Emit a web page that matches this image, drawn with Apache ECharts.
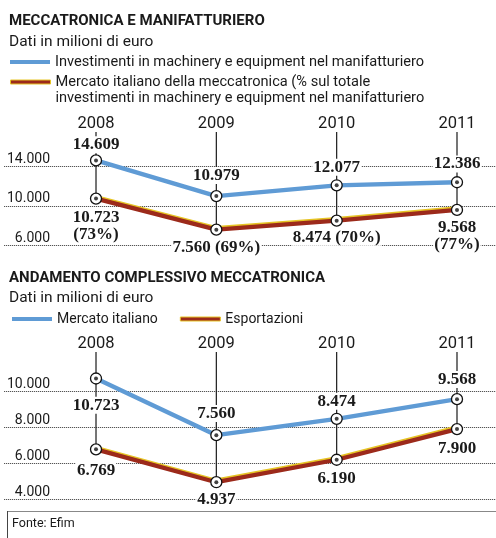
<!DOCTYPE html>
<html><head><meta charset="utf-8">
<script src="https://cdn.jsdelivr.net/npm/echarts@6/dist/echarts.min.js"></script>
<style>html,body{margin:0;padding:0;background:#fff}#c{width:496px;height:538px}</style>
</head><body><div id="c"></div>
<script>
// ---- data ----
const years = [2008, 2009, 2010, 2011];
// Top chart: Meccatronica e manifatturiero
const investimenti = [14609, 10979, 12077, 12386];
const mercatoTop = [10723, 7560, 8474, 9568];
const mercatoPct = [73, 69, 70, 77];
const topTicks = [6000, 10000, 14000];
// Bottom chart: Andamento complessivo meccatronica
const mercatoItaliano = [10723, 7560, 8474, 9568];
const esportazioni = [6769, 4937, 6190, 7900];
const bottomTicks = [4000, 6000, 8000, 10000];

const nameInv = 'Investimenti in machinery e equipment nel manifatturiero';
const nameMer = 'Mercato italiano della meccatronica (% sul totale\ninvestimenti in machinery e equipment nel manifatturiero';
const nameMI = 'Mercato italiano';
const nameEsp = 'Esportazioni';

// ---- style ----
const BLUE = '#5f9bd5', RED = '#9c2a1b', YELLOW = '#e6c425', INK = '#1a1a1a';
const SANS = 'Roboto', SERIF = 'Liberation Serif';
const XMIN = 2007.2354, XMAX = 2011.3241;
const twoLine = [true, false, false, true];

function fmt(v){ return String(v).replace(/\B(?=(\d{3})+(?!\d))/g, '.'); }
const pts = vals => years.map((y, i) => [y, vals[i]]);

function connector(ax, lows){
  return {type:'custom', xAxisIndex:ax, yAxisIndex:ax, z:1, silent:true, data: pts(lows), encode:{x:0, y:1},
    renderItem(params, api){
      const p = api.coord([api.value(0), api.value(1)]);
      const top = params.coordSys.y;
      return {type:'line', shape:{x1:p[0], y1:top, x2:p[0], y2:p[1]}, style:{stroke:INK, lineWidth:1.2}};
    }};
}
function line(ax, name, vals, color, extra){
  return {type:'line', name, xAxisIndex:ax, yAxisIndex:ax, z:2, silent:true,
    showSymbol:false, color, data: pts(vals),
    lineStyle: Object.assign({width:4.3, color, cap:'round', join:'round'}, extra||{})};
}
function markers(ax, vals, labelFn, pos, dist){
  return {type:'scatter', xAxisIndex:ax, yAxisIndex:ax, z:3, silent:true, symbol:'circle', symbolSize:11,
    itemStyle:{color:'#fff', borderColor:'#111', borderWidth:1.3, opacity:1},
    data: years.map((y, i) => ({value:[y, vals[i]], label:{position:pos[i], distance:dist[i]}})),
    label:{show:true, formatter: p => labelFn(p.dataIndex), fontFamily:SERIF, fontWeight:'bold',
      fontSize:17, lineHeight:17, color:INK, backgroundColor:'#fff', padding:[0,1], align:'center'}};
}
function dots(ax, vals){
  return {type:'scatter', xAxisIndex:ax, yAxisIndex:ax, z:4, silent:true, symbol:'circle', symbolSize:4,
    itemStyle:{color:'#111'}, data: pts(vals)};
}
function xAxis(g){
  return {type:'value', gridIndex:g, min:XMIN, max:XMAX, position:'top',
    axisLine:{show:false}, axisTick:{show:false}, splitLine:{show:false},
    axisLabel:{customValues: years, formatter: v => String(v), fontFamily:SANS, fontSize:16.5, color:INK, margin:0}};
}
function yAxis(g, min, max, ticks){
  return {type:'value', gridIndex:g, min, max,
    axisLine:{show:false}, axisTick:{show:false, customValues: ticks},
    splitLine:{show:false},
    axisLabel:{customValues: ticks, inside:true, margin:46, align:'right', verticalAlign:'bottom',
      formatter: v => fmt(v), fontFamily:SANS, fontSize:14, color:INK}};
}
const redShadow = {shadowColor: YELLOW, shadowOffsetY:-1.5, shadowOffsetX:-0.5, shadowBlur:0};

const footer = [
  {type:'line', shape:{x1:7, y1:511.5, x2:496, y2:511.5}, style:{stroke:'#888', lineWidth:1}},
  {type:'line', shape:{x1:7.5, y1:511, x2:7.5, y2:538}, style:{stroke:'#444', lineWidth:1}},
  {type:'text', left:12, top:517, style:{text:'Fonte: Efim', fontFamily:SANS, fontSize:12.5, fill:INK}}
];

const option = {
  backgroundColor:'#fff',
  animation:false,
  title:[
    {text:'MECCATRONICA E MANIFATTURIERO', subtext:'Dati in milioni di euro', left:9, top:12, padding:0, itemGap:3,
      textStyle:{fontFamily:SANS, fontWeight:'bold', fontSize:15, lineHeight:18, color:INK},
      subtextStyle:{fontFamily:SANS, fontSize:15.5, lineHeight:18, color:INK}},
    {text:'ANDAMENTO COMPLESSIVO MECCATRONICA', subtext:'Dati in milioni di euro', left:9, top:269, padding:0, itemGap:2,
      textStyle:{fontFamily:SANS, fontWeight:'bold', fontSize:15, lineHeight:18, color:INK},
      subtextStyle:{fontFamily:SANS, fontSize:15.5, lineHeight:18, color:INK}}
  ],
  legend:[
    {left:10, top:54, padding:0, selectedMode:false, icon:'rect', itemWidth:40, itemHeight:4,
      data:[{name:nameInv}], textStyle:{fontFamily:SANS, fontSize:14.6, lineHeight:16, color:INK}},
    {left:10, top:58, padding:0, selectedMode:false, icon:'rect', itemWidth:40, itemHeight:4,
      formatter: n => '\n' + n,
      data:[{name:nameMer, itemStyle:{color:RED, borderColor:YELLOW, borderWidth:1}}],
      textStyle:{fontFamily:SANS, fontSize:14.6, lineHeight:16, color:INK}},
    {left:12, top:311, padding:0, selectedMode:false, icon:'rect', itemWidth:40, itemHeight:4, itemGap:22,
      data:[{name:nameMI}, {name:nameEsp, itemStyle:{color:RED, borderColor:YELLOW, borderWidth:1}}],
      textStyle:{fontFamily:SANS, fontSize:14, lineHeight:16, color:INK}}
  ],
  grid:[
    {left:4, right:0, top:132, bottom:293},
    {left:4, right:0, top:352, bottom:39}
  ],
  xAxis:[xAxis(0), xAxis(1)],
  yAxis:[yAxis(0, 6000, 17500, topTicks), yAxis(1, 4000, 12200, bottomTicks)],
  series:[
    connector(0, mercatoTop),
    line(0, nameInv, investimenti, BLUE),
    line(0, nameMer, mercatoTop, RED, redShadow),
    markers(0, investimenti, i => fmt(investimenti[i]), ['top','top','top','top'], [1,6,3.5,3.5]),
    markers(0, mercatoTop, i => fmt(mercatoTop[i]) + (twoLine[i] ? '\n' : ' ') + '(' + mercatoPct[i] + '%)',
      ['bottom','bottom','bottom','bottom'], [4,3,2,3]),
    dots(0, investimenti), dots(0, mercatoTop),

    connector(1, esportazioni),
    line(1, nameMI, mercatoItaliano, BLUE),
    line(1, nameEsp, esportazioni, RED, redShadow),
    markers(1, mercatoItaliano, i => fmt(mercatoItaliano[i]), ['bottom','top','top','top'], [12,7,3,5]),
    markers(1, esportazioni, i => fmt(esportazioni[i]), ['bottom','bottom','bottom','bottom'], [7,3,4,5]),
    dots(1, mercatoItaliano), dots(1, esportazioni)
  ],
  graphic: footer
};
const chart = echarts.init(document.getElementById('c'), null, {renderer:'canvas'});
chart.setOption(option);

// dotted gridlines placed with the chart's own y scales at the tick values
const gridEls = [];
[[0, topTicks], [1, bottomTicks]].forEach(([ax, ticks]) => {
  const x0 = Math.round(chart.convertToPixel({xAxisIndex: ax}, XMIN));
  const x1 = Math.round(chart.convertToPixel({xAxisIndex: ax}, XMAX));
  ticks.forEach(v => {
    const y = Math.round(chart.convertToPixel({yAxisIndex: ax}, v));
    gridEls.push({type:'rect', silent:true, z:0, shape:{x:x0, y:y, width:x1 - x0, height:1}, style:{fill:'#dcdcdc'}});
    const kids = [];
    for (let x = x0; x < x1; x += 2) kids.push({type:'rect', shape:{x:x, y:y, width:1, height:1}, style:{fill:'#555'}});
    gridEls.push({type:'group', silent:true, z:0, children:kids});
  });
});
chart.setOption({graphic: footer.concat(gridEls)});
</script></body></html>
